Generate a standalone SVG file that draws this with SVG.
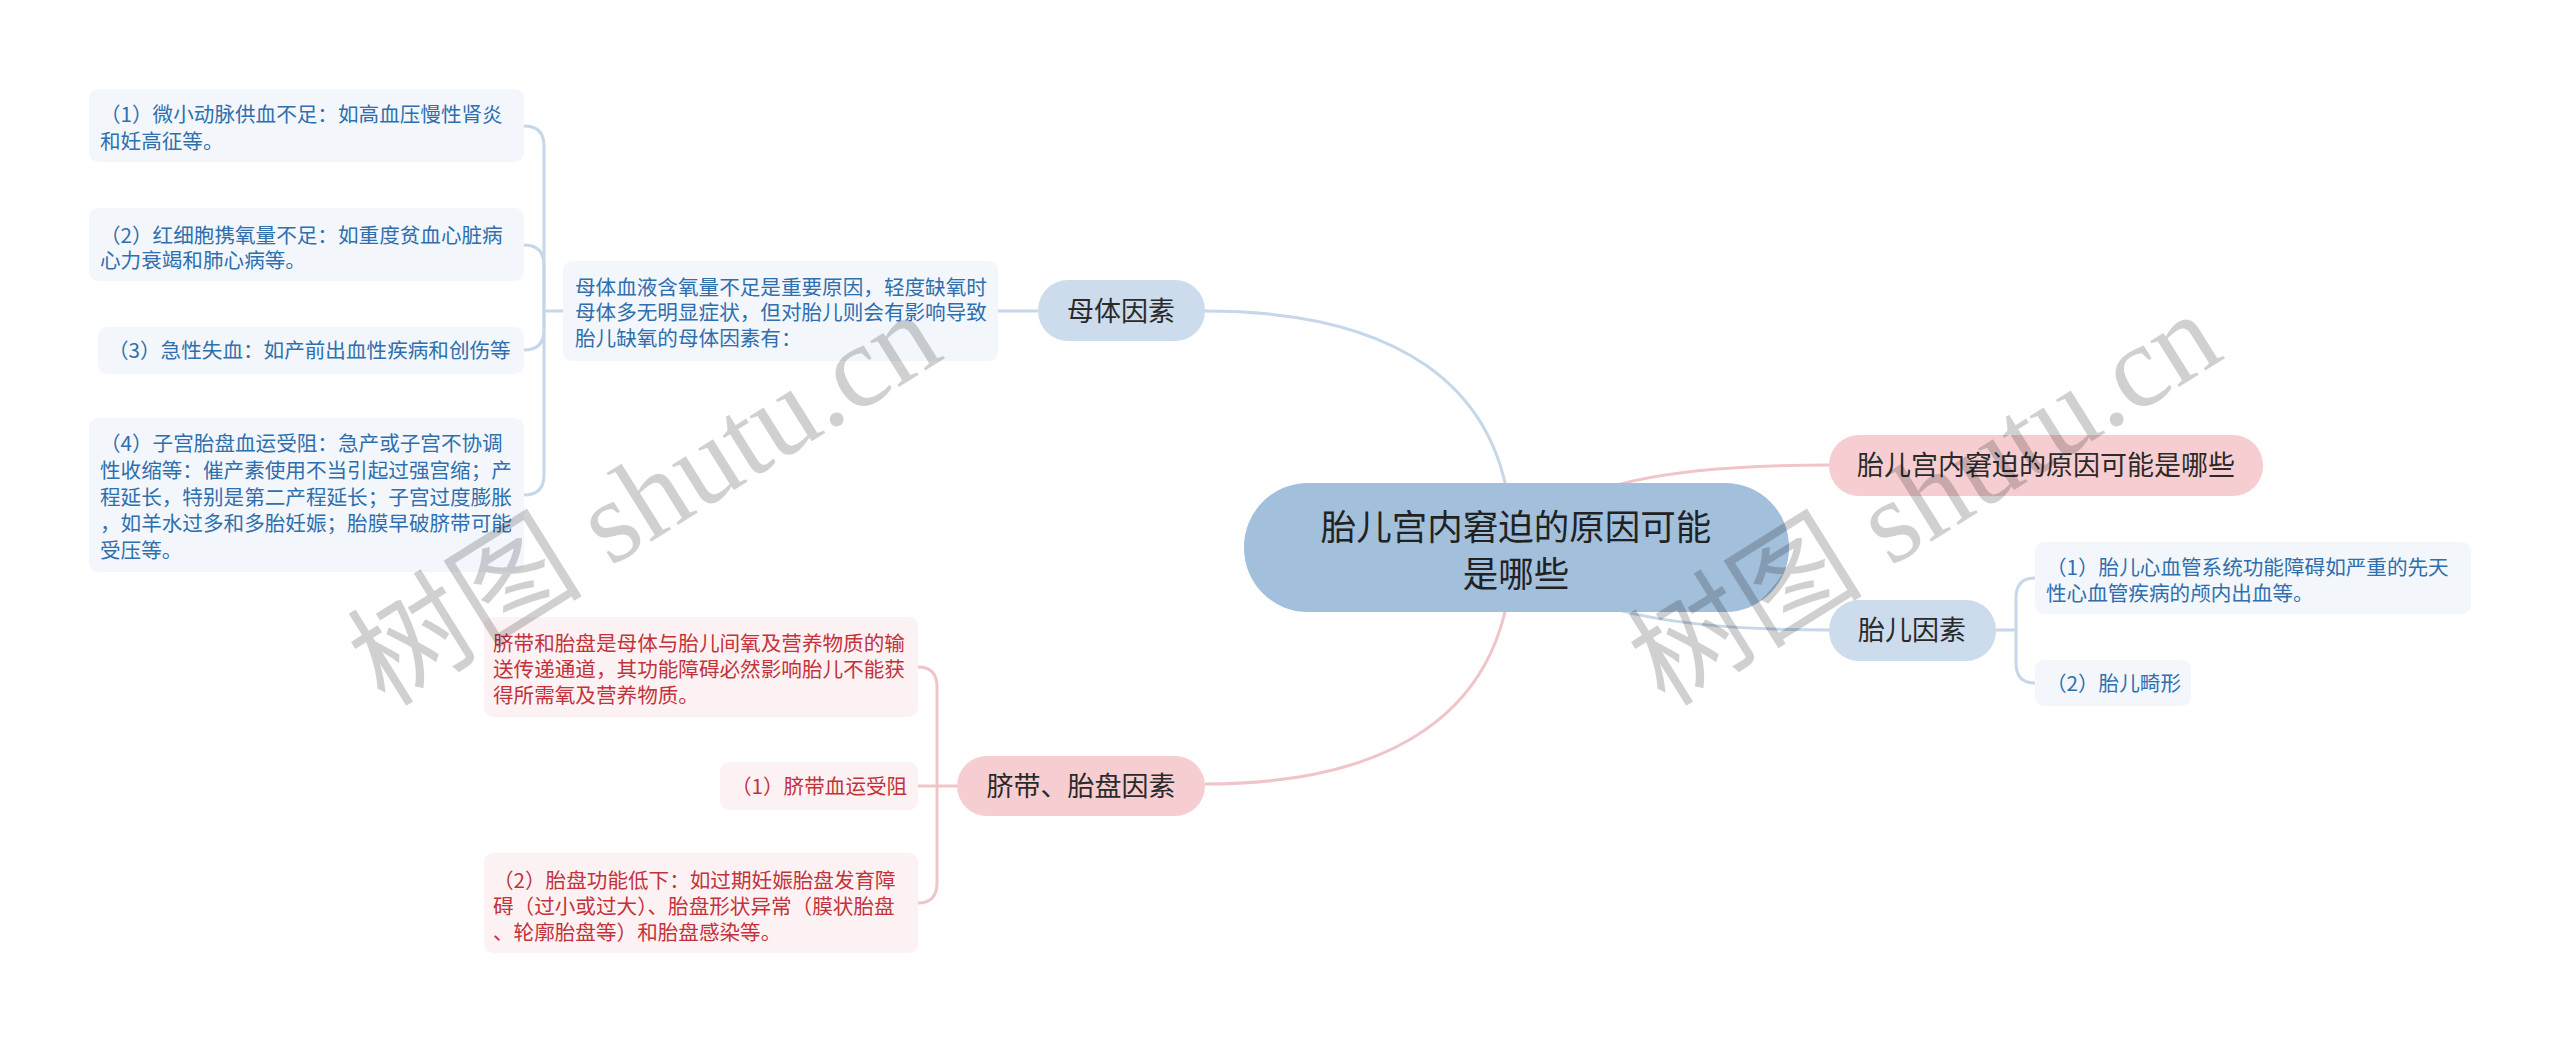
<svg xmlns="http://www.w3.org/2000/svg" width="2560" height="1043" viewBox="0 0 2560 1043">
<style>
text{font-family:"Noto Sans CJK SC","Noto Sans",sans-serif}
.cb{fill:none;stroke:#c5d7e9;stroke-width:3}
.cp{fill:none;stroke:#f0c5c9;stroke-width:3}
.root{fill:#a2bfdb}
.bn{fill:#ccdcec}
.pn{fill:#f6ced1}
.bl{fill:#f3f7fc}
.pl{fill:#fdf2f3}
.rt{font-size:35.5px;fill:#222;text-anchor:middle}
.nt{font-size:27px;fill:#2a2a2a;text-anchor:middle}
.bt{font-size:20.6px;fill:#2f6fad}
.ptx{font-size:20.6px;fill:#c3333b}
.wm{font-size:118px;fill:#000;opacity:0.18;font-family:"Liberation Serif","Noto Sans CJK SC",serif}
</style>
<rect width="2560" height="1043" fill="#fff"/>
<g id="connectors">
<path class="cb" d="M1205,311 C1385,311 1512,377 1512,547"/>
<path class="cp" d="M1205,784 C1385,784 1512,717 1512,547"/>
<path class="cp" d="M1516,547 C1560,480 1680,465 1830,465"/>
<path class="cb" d="M1516,547 C1560,614 1680,630 1830,630"/>
<path class="cb" d="M998,311 H1038"/>
<path class="cb" d="M563,311 H544 V146 Q544,126 524,126"/>
<path class="cb" d="M544,311 V265 Q544,245 524,245"/>
<path class="cb" d="M544,311 V330 Q544,350 524,350"/>
<path class="cb" d="M544,311 V475 Q544,495 524,495"/>
<path class="cp" d="M957,786 H918"/>
<path class="cp" d="M937,786 V687 Q937,667 918,667"/>
<path class="cp" d="M937,786 V883 Q937,903 918,903"/>
<path class="cb" d="M1996,630 H2016 V598 Q2016,578 2035,578"/>
<path class="cb" d="M2016,630 V663 Q2016,683 2035,683"/>
</g>
<g id="root">
<rect class="root" x="1244" y="483" width="545" height="129" rx="64"/>
<text class="rt"><tspan x="1516" y="540">胎儿宫内窘迫的原因可能</tspan><tspan x="1516" y="587">是哪些</tspan></text>
</g>
<g id="n-mother">
<rect class="bn" x="1038" y="280" width="167" height="61" rx="30"/>
<text class="nt" x="1121" y="321">母体因素</text>
</g>
<g id="n-mother-desc">
<rect class="bl" x="563" y="261" width="435" height="100" rx="9"/>
<text class="bt"><tspan x="575" y="294.5">母体血液含氧量不足是重要原因，轻度缺氧时</tspan><tspan x="575" y="320">母体多无明显症状，但对胎儿则会有影响导致</tspan><tspan x="575" y="345.5">胎儿缺氧的母体因素有：</tspan></text>
</g>
<g id="n-m1">
<rect class="bl" x="89" y="89" width="435" height="73" rx="9"/>
<text class="bt"><tspan x="100" y="122">（1）微小动脉供血不足：如高血压慢性肾炎</tspan><tspan x="100" y="148.5">和妊高征等。</tspan></text>
</g>
<g id="n-m2">
<rect class="bl" x="89" y="208" width="435" height="73" rx="9"/>
<text class="bt"><tspan x="100" y="243">（2）红细胞携氧量不足：如重度贫血心脏病</tspan><tspan x="100" y="268">心力衰竭和肺心病等。</tspan></text>
</g>
<g id="n-m3">
<rect class="bl" x="98" y="327" width="426" height="47" rx="9"/>
<text class="bt" x="108" y="358">（3）急性失血：如产前出血性疾病和创伤等</text>
</g>
<g id="n-m4">
<rect class="bl" x="89" y="418" width="435" height="154" rx="9"/>
<text class="bt"><tspan x="100" y="451">（4）子宫胎盘血运受阻：急产或子宫不协调</tspan><tspan x="100" y="478">性收缩等：催产素使用不当引起过强宫缩；产</tspan><tspan x="100" y="504.5">程延长，特别是第二产程延长；子宫过度膨胀</tspan><tspan x="100" y="531">，如羊水过多和多胎妊娠；胎膜早破脐带可能</tspan><tspan x="100" y="558">受压等。</tspan></text>
</g>
<g id="n-cord">
<rect class="pn" x="957" y="756" width="248" height="60" rx="30"/>
<text class="nt" x="1081" y="796">脐带、胎盘因素</text>
</g>
<g id="n-cord-desc">
<rect class="pl" x="484" y="617" width="434" height="100" rx="9"/>
<text class="ptx"><tspan x="493" y="651">脐带和胎盘是母体与胎儿间氧及营养物质的输</tspan><tspan x="493" y="677">送传递通道，其功能障碍必然影响胎儿不能获</tspan><tspan x="493" y="703">得所需氧及营养物质。</tspan></text>
</g>
<g id="n-c1">
<rect class="pl" x="720" y="762" width="198" height="48" rx="9"/>
<text class="ptx" x="731" y="794">（1）脐带血运受阻</text>
</g>
<g id="n-c2">
<rect class="pl" x="484" y="853" width="434" height="100" rx="9"/>
<text class="ptx"><tspan x="493" y="888">（2）胎盘功能低下：如过期妊娠胎盘发育障</tspan><tspan x="493" y="914">碍（过小或过大）、胎盘形状异常（膜状胎盘</tspan><tspan x="493" y="940">、轮廓胎盘等）和胎盘感染等。</tspan></text>
</g>
<g id="n-title">
<rect class="pn" x="1829" y="435" width="434" height="61" rx="30"/>
<text class="nt" x="2046" y="475">胎儿宫内窘迫的原因可能是哪些</text>
</g>
<g id="n-fetus">
<rect class="bn" x="1829" y="600" width="167" height="61" rx="30"/>
<text class="nt" x="1912" y="640">胎儿因素</text>
</g>
<g id="n-f1">
<rect class="bl" x="2035" y="542" width="436" height="72" rx="9"/>
<text class="bt"><tspan x="2046" y="575">（1）胎儿心血管系统功能障碍如严重的先天</tspan><tspan x="2046" y="601">性心血管疾病的颅内出血等。</tspan></text>
</g>
<g id="n-f2">
<rect class="bl" x="2035" y="660" width="156" height="46" rx="9"/>
<text class="bt" x="2046" y="691">（2）胎儿畸形</text>
</g>
<g id="watermark">
<text class="wm" x="385" y="708" transform="rotate(-32 385 708)">树图 shutu.cn</text>
<text class="wm" x="1665" y="708" transform="rotate(-32 1665 708)">树图 shutu.cn</text>
</g>
</svg>
